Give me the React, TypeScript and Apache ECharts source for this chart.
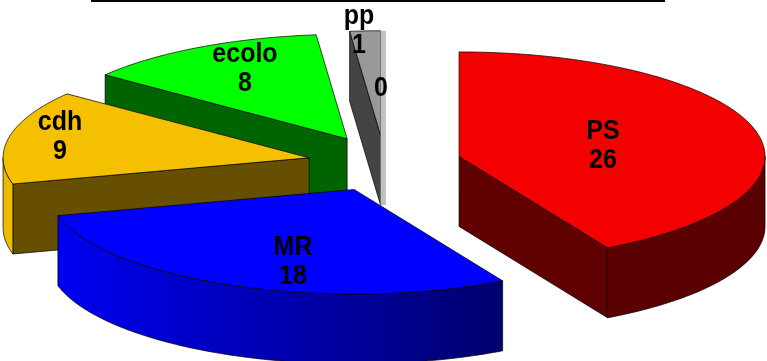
import React, { useEffect, useRef } from "react";
import * as echarts from "echarts";

const names = ["PS", "MR", "cdh", "ecolo", "pp", ""];
const values = [26, 18, 9, 8, 1, 0];
const topColors = ["#f50000", "#0000ff", "#f5c000", "#00ff00", "#999999", "#c0c0c0"];
const cutColors = ["#600000", "#00006e", "#665000", "#006400", "#444444", "#c0c0c0"];
const wallLeftColors = ["#5a0000", "#0000f0", "#e8b800", "#006400", "#444444", "#c0c0c0"];
const wallRightColors = ["#5a0000", "#00006e", "#f0bc00", "#006400", "#444444", "#c0c0c0"];
const labelX = [603, 293, 60, 245, 359, 381];
const labelY = [144, 260.5, 135, 67, 29.5, 87];
const drawOrder = [3, 2, 4, 5, 1, 0];

const CX = 384.5;
const CY = 163.5;
const RX = 306;
const RY = 104.5;
const DEPTH = 70;
const EXPLODE = 77;
const KY = 0.367;
const ZERO_SLICE_DEG = 1;
const LABEL_SCALE_Y = 1.1;
const rad = (d: number) => (d * Math.PI) / 180;

const total = values.reduce((a, b) => a + b, 0);
const starts: number[] = [];
const ends: number[] = [];
values.reduce((acc, v, i) => {
  starts[i] = acc;
  ends[i] = acc + (v / total) * 360;
  return ends[i];
}, 0);

function apexOf(i: number): [number, number] {
  // a slice of value 0 stays next to the slice before it
  const k = values[i] === 0 ? i - 1 : i;
  const mid = rad((starts[k] + ends[k]) / 2);
  return [CX + EXPLODE * Math.sin(mid), CY - EXPLODE * KY * Math.cos(mid)];
}

function rim(a: [number, number], deg: number, dy = 0): number[] {
  return [a[0] + RX * Math.sin(rad(deg)), a[1] - RY * Math.cos(rad(deg)) + dy];
}

function arc(a: [number, number], from: number, to: number, dy = 0): number[][] {
  const out: number[][] = [];
  const n = Math.max(2, Math.ceil(Math.abs(to - from)));
  for (let k = 0; k <= n; k++) out.push(rim(a, from + ((to - from) * k) / n, dy));
  return out;
}

function poly(points: number[][], fill: any, stroke: string | null = "#000") {
  return {
    type: "polygon",
    shape: { points },
    style: { fill, stroke: stroke || undefined, lineWidth: stroke ? 0.7 : 0 },
  };
}

function renderSlice(params: any) {
  const i = drawOrder[params.dataIndex];
  const a = apexOf(i);
  const children: any[] = [];
  if (values[i] === 0) {
    const top = rim(a, starts[i]);
    const w = RX * Math.sin(rad(ZERO_SLICE_DEG));
    children.push(
      poly(
        [
          [a[0], top[1]],
          [a[0] + w, top[1]],
          [a[0] + w, a[1] + DEPTH],
          [a[0], a[1] + DEPTH],
        ],
        topColors[i],
        null,
      ),
    );
    return { type: "group", children };
  }
  const s = starts[i];
  const e = ends[i];
  const cut = (deg: number) =>
    poly([a, rim(a, deg), rim(a, deg, DEPTH), [a[0], a[1] + DEPTH]], cutColors[i]);
  if (e > 0 && e < 180) children.push(cut(e));
  if (s > 180 && s < 360) children.push(cut(s));
  const w0 = Math.max(s, 90);
  const w1 = Math.min(e, 270);
  if (w1 > w0) {
    const upper = arc(a, w0, w1);
    const lower = arc(a, w1, w0, DEPTH);
    children.push(
      poly(upper.concat(lower), {
        type: "linear",
        x: 0,
        y: 0,
        x2: 1,
        y2: 0,
        colorStops: [
          { offset: 0, color: wallLeftColors[i] },
          { offset: 1, color: wallRightColors[i] },
        ],
        global: false,
      }),
    );
  }
  children.push(poly([a as number[]].concat(arc(a, s, e)), topColors[i]));
  return { type: "group", children };
}

function renderLabel(params: any, api: any) {
  const i = params.dataIndex;
  const text = names[i] ? `${names[i]}\n${api.value(1)}` : `${api.value(1)}`;
  return {
    type: "text",
    x: labelX[i],
    y: labelY[i],
    scaleY: LABEL_SCALE_Y,
    style: {
      text,
      x: 0,
      y: 0,
      fill: "#000",
      font: 'bold 25px "Liberation Sans", Arial, sans-serif',
      lineHeight: 29 / LABEL_SCALE_Y,
      align: "center",
      verticalAlign: "middle",
    },
  };
}

export default function App() {
  const ref = useRef<HTMLDivElement>(null);
  useEffect(() => {
    const chart = echarts.init(ref.current!, null, { renderer: "svg" });
    chart.setOption({
      animation: false,
      backgroundColor: "#fff",
      graphic: [
        {
          type: "rect",
          shape: { x: 91, y: 0, width: 574, height: 2 },
          style: { fill: "#000" },
        },
      ],
      series: [
        {
          type: "custom",
          coordinateSystem: "none",
          silent: true,
          data: drawOrder.map((i) => [i, values[i]]),
          renderItem: renderSlice,
          z: 2,
        },
        {
          type: "custom",
          coordinateSystem: "none",
          silent: true,
          data: values.map((v, i) => [i, v]),
          renderItem: renderLabel,
          z: 3,
        },
      ],
    });
    return () => chart.dispose();
  }, []);
  return (
    <div
      ref={ref}
      style={{
        position: "absolute",
        left: 0,
        top: 0,
        width: 767,
        height: 361,
        filter: "blur(0.5px)",
      }}
    />
  );
}
